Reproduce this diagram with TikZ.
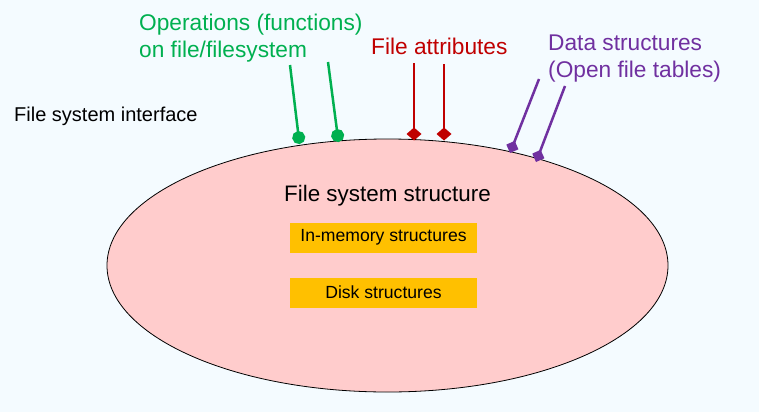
\documentclass[tikz,border=0pt]{standalone}
\usepackage{fontspec}
\setmainfont{Liberation Sans}
\usetikzlibrary{arrows.meta}
\definecolor{bgblue}{RGB}{244,251,255}
\definecolor{fspink}{RGB}{255,204,204}
\definecolor{boxorange}{RGB}{255,192,0}
\definecolor{opsgreen}{RGB}{0,176,80}
\definecolor{attrred}{RGB}{192,0,0}
\definecolor{datapurple}{RGB}{112,48,160}
\begin{document}
\begin{tikzpicture}[x=1pt, y=-1pt,
    label/.style={anchor=base west, inner sep=0pt, align=left},
    fsbox/.style={fill=boxorange, inner sep=0pt, minimum width=187pt,
      minimum height=30pt, font=\fontsize{17.6}{21}\selectfont},
    opsline/.style={draw=opsgreen, line width=2.5pt,
      -{Circle[length=13pt]}},
    attrline/.style={draw=attrred, line width=2.5pt,
      -{Diamond[length=13pt, width=15pt]}},
    dataline/.style={draw=datapurple, line width=2.5pt,
      -{Diamond[length=13pt, width=13pt]}}]
      \fill[bgblue] (0,0) rectangle (759,412);
      \useasboundingbox (0,0) rectangle (759,412);

      \draw[fill=fspink, line width=0.8pt] (387.5,265.5)
      ellipse [x radius=280.5, y radius=126.5];

      \node[label, font=\fontsize{20}{24}\selectfont] (iface) at (14,121)
      {File system interface};
      \node[anchor=base, inner sep=0pt, font=\fontsize{22.4}{27}\selectfont]
      (fss) at (387.5,201) {File system structure};
      \node[fsbox] (inmem) at (383.5,237.5) {In-memory structures};
      \node[fsbox] (disk) at (383.5,292.5) {Disk structures};

      % the base of a two-line label is its last line
      \node[label, text=opsgreen, font=\fontsize{22.7}{26}\selectfont] (ops)
      at (139,57) {Operations (functions)\\on file/filesystem};
      \node[label, text=attrred, font=\fontsize{22.7}{26}\selectfont] (attr)
      at (371,54) {File attributes};
      \node[label, text=datapurple, font=\fontsize{22.7}{27}\selectfont] (data)
      at (548,77) {Data structures\\(Open file tables)};

      \coordinate (ops1) at (290,65);
      \coordinate (ops2) at (328,62);
      \coordinate (attr1) at (414,63);
      \coordinate (attr2) at (444,64);
      \coordinate (data1) at (539,79);
      \coordinate (data2) at (565,86);

      \draw[opsline] (ops1) -- (299.5,144);
      \draw[opsline] (ops2) -- (338.5,142);
      \draw[attrline] (attr1) -- (414,140.5);
      \draw[attrline] (attr2) -- (444,140.5);
      \draw[dataline] (data1) -- (510,153);
      \draw[dataline] (data2) -- (536,162);
    \end{tikzpicture}
\end{document}
